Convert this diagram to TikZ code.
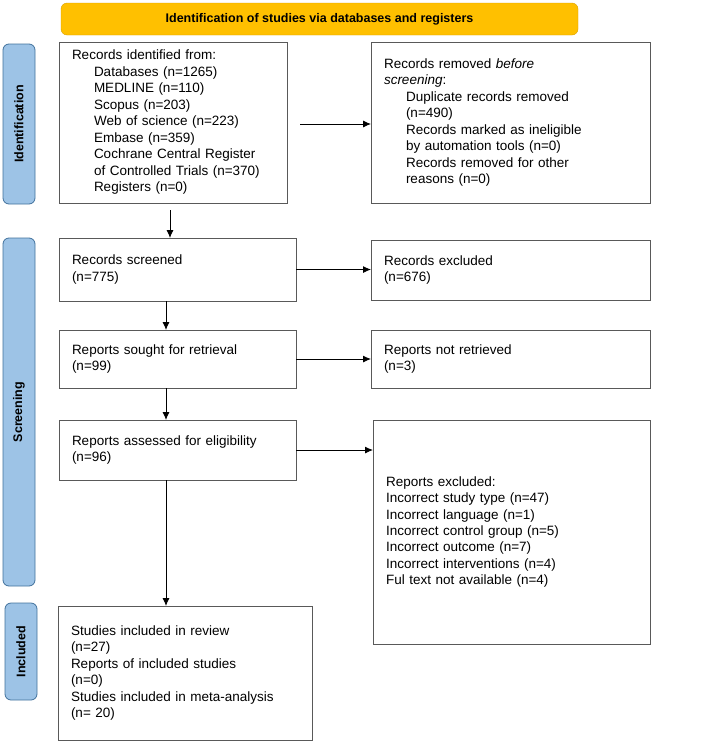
\documentclass[tikz,border=0pt]{standalone}
\usepackage{fontspec}
\setmainfont{Liberation Sans}
\usetikzlibrary{arrows.meta}
\definecolor{bannerfill}{HTML}{FFC000}
\definecolor{bannerdraw}{HTML}{D9A000}
\definecolor{sidefill}{HTML}{9DC3E6}
\definecolor{sidedraw}{HTML}{41719C}
\tikzset{
  box/.style={draw=black!65, line width=0.8pt, anchor=north west, align=left,
              inner xsep=13pt, inner ysep=0pt, outer sep=0pt,
              font=\fontsize{13.5}{16.5}\selectfont},
  side/.style={draw=sidedraw, fill=sidefill, rounded corners=6pt, line width=0.8pt,
               anchor=north west, minimum width=32pt, outer sep=0pt},
  sidetext/.style={rotate=90, font=\fontsize{12.5}{14}\selectfont\bfseries},
  link/.style={-{Latex[length=8pt,width=7pt]}, line width=0.9pt}
}
\newcommand{\ind}{\hspace*{22pt}}
\begin{document}
\begin{tikzpicture}[x=1pt,y=-1pt]
\useasboundingbox (0,0) rectangle (709,742);
% banner
\node[draw=bannerdraw, fill=bannerfill, rounded corners=6pt, anchor=north west,
      minimum width=517pt, minimum height=32pt, outer sep=0pt,
      font=\fontsize{12.5}{14}\selectfont\bfseries] (banner) at (61,3)
      {Identification of studies via databases and registers};
% side labels
\node[side, minimum height=160pt] (ident) at (3,44) {};
\node[sidetext] (identlbl) at (ident.center) {Identification};
\node[side, minimum height=348pt] (screen) at (3,238) {};
\node[sidetext] (screenlbl) at (screen.center) {Screening};
\node[side, minimum height=97pt] (incl) at (5,603) {};
\node[sidetext] (incllbl) at (incl.center) {Included};
% left column
\node[box, text width=202pt, minimum height=161pt] (ident1) at (59,42)
  {Records identified from:\\
   \ind Databases (n=1265)\\
   \ind MEDLINE (n=110)\\
   \ind Scopus (n=203)\\
   \ind Web of science (n=223)\\
   \ind Embase (n=359)\\
   \ind Cochrane Central Register\\
   \ind of Controlled Trials (n=370)\\
   \ind Registers (n=0)};
\node[box, text width=211pt, minimum height=63pt] (screened) at (59,238)
  {Records screened\\(n=775)};
\node[box, text width=211pt, minimum height=58pt] (sought) at (59,330)
  {Reports sought for retrieval\\(n=99)};
\node[box, text width=211pt, minimum height=60pt] (assessed) at (59,420)
  {Reports assessed for eligibility\\(n=96)};
\node[box, text width=228pt, minimum height=134pt] (included) at (58,606)
  {Studies included in review\\(n=27)\\Reports of included studies\\(n=0)\\Studies included in meta-analysis\\(n= 20)};
% right column
\node[box, text width=253pt, minimum height=161pt] (removed) at (371,42)
  {Records removed \textit{before}\\\textit{screening}:\\
   \ind Duplicate records removed\\
   \ind (n=490)\\
   \ind Records marked as ineligible\\
   \ind by automation tools (n=0)\\
   \ind Records removed for other\\
   \ind reasons (n=0)};
\node[box, text width=253pt, minimum height=60pt] (excluded) at (371,240)
  {Records excluded\\(n=676)};
\node[box, text width=253pt, minimum height=58pt] (notretr) at (371,330)
  {Reports not retrieved\\(n=3)};
\node[box, text width=251pt, minimum height=224pt] (repexcl) at (373,420)
  {Reports excluded:\\Incorrect study type (n=47)\\Incorrect language (n=1)\\Incorrect control group (n=5)\\Incorrect outcome (n=7)\\Incorrect interventions (n=4)\\Ful text not available (n=4)\\[40pt]};
% arrows
\coordinate (a0) at (170,210);
\draw[link] (a0) -- (170,238);
\coordinate (r0) at (300,124);
\draw[link] (r0) -- (removed.west |- r0);
\draw[link] (screened.east) -- (screened.east -| excluded.west);
\draw[link] (166,301) -- (166,330);
\draw[link] (sought.east) -- (sought.east -| notretr.west);
\draw[link] (166,388) -- (166,420);
\draw[link] (assessed.east) -- (assessed.east -| repexcl.west);
\draw[link] (166,480) -- (166,606);
\end{tikzpicture}
\end{document}
